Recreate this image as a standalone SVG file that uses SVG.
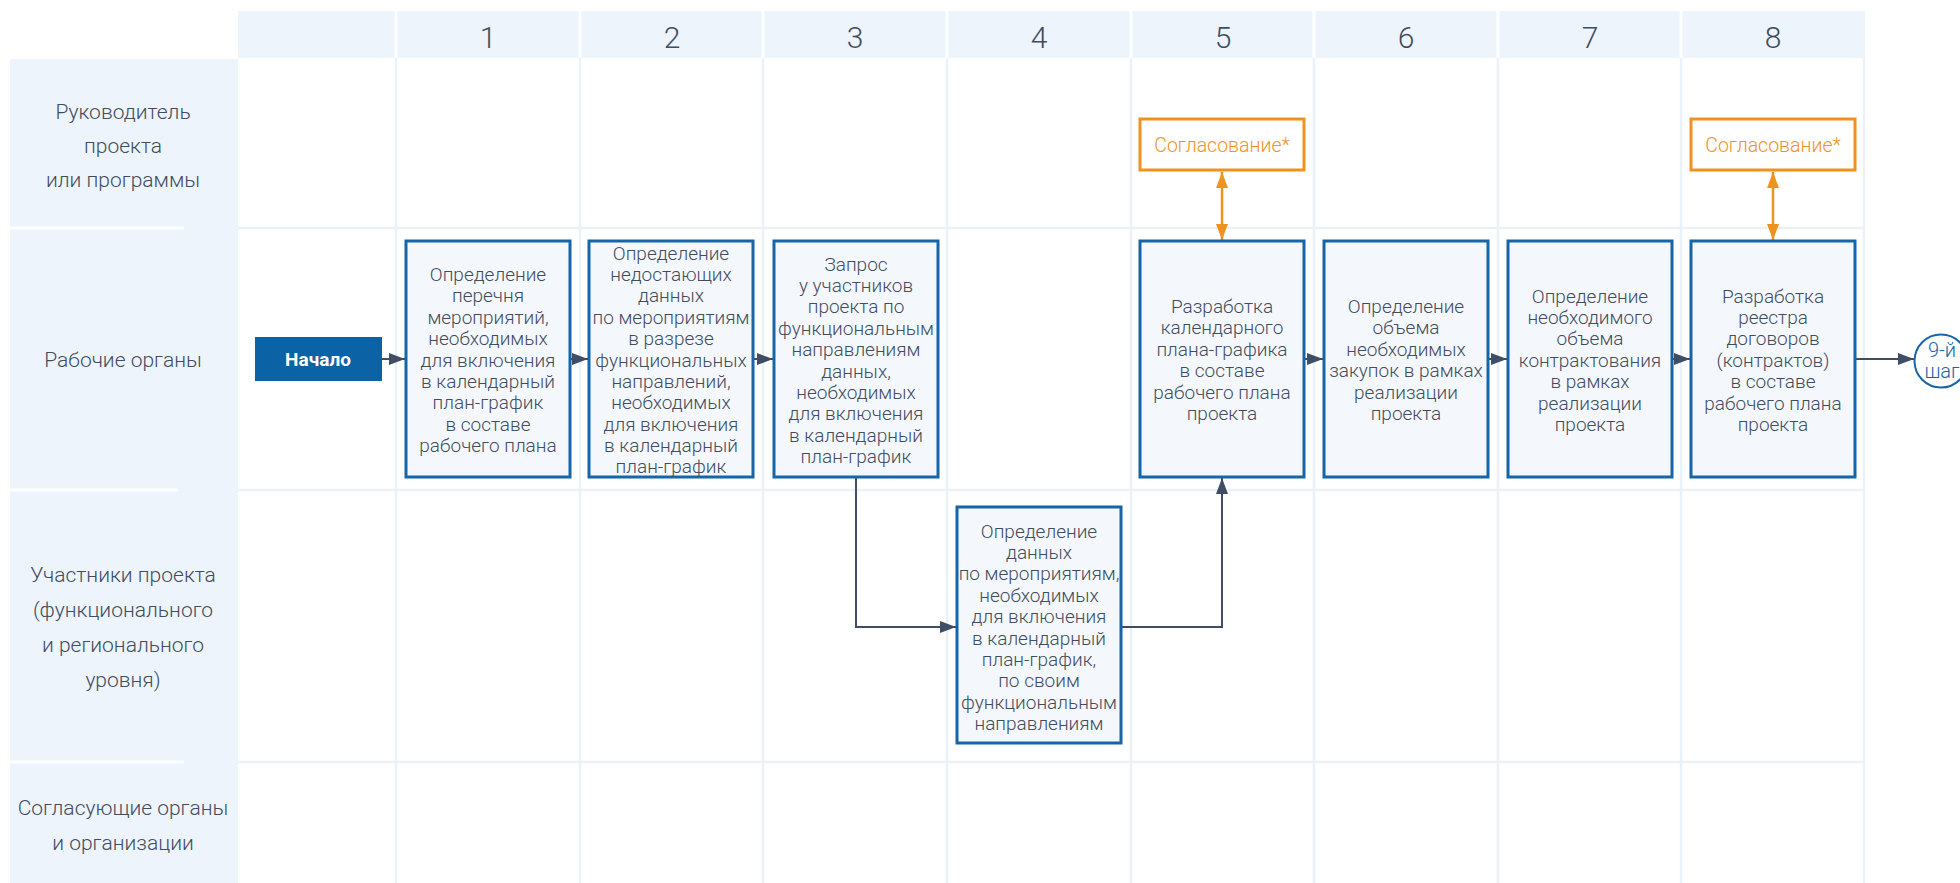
<svg xmlns="http://www.w3.org/2000/svg" width="1960" height="883" viewBox="0 0 1960 883">
<defs>
<style>
.lbl{font-family:Roboto,"Liberation Sans",Arial,sans-serif;font-weight:300;font-size:21px;fill:#414c5e;text-anchor:middle}
.num{font-family:Roboto,"Liberation Sans",Arial,sans-serif;font-weight:300;font-size:30px;fill:#414c5e;text-anchor:middle}
.bt{font-family:Roboto,"Liberation Sans",Arial,sans-serif;font-weight:300;font-size:19px;fill:#414c5e;text-anchor:middle}
.box{fill:#f4f8fc;stroke:#1565a8;stroke-width:3}
.appr{fill:#ffffff;stroke:#f0921f;stroke-width:3}
.at{font-family:Roboto,"Liberation Sans",Arial,sans-serif;font-weight:300;font-size:19.5px;fill:#f0921f;text-anchor:middle}
.ct{font-family:Roboto,"Liberation Sans",Arial,sans-serif;font-weight:300;font-size:20px;fill:#1565a8;text-anchor:middle}
.grid{stroke:#e9f1f9;stroke-width:2.5}
.gap{stroke:#ffffff;stroke-width:3}
.con{fill:none;stroke:#3f4d66;stroke-width:2}
.ocon{fill:none;stroke:#f0921f;stroke-width:2.5}
</style>
<marker id="ah" viewBox="0 0 16 12" refX="16" refY="6" markerWidth="16" markerHeight="12" markerUnits="userSpaceOnUse" orient="auto"><path d="M0,0 L16,6 L0,12 z" fill="#3f4d66"/></marker>
<marker id="oh" viewBox="0 0 16 12" refX="16" refY="6" markerWidth="16" markerHeight="12" markerUnits="userSpaceOnUse" orient="auto-start-reverse"><path d="M0,0 L16,6 L0,12 z" fill="#f0921f"/></marker>
</defs>
<rect width="1960" height="883" fill="#ffffff"/>
<g id="grid">
<rect x="238" y="11" width="1627" height="47" fill="#edf4fb"/>
<g class="gap">
<line x1="396" y1="11" x2="396" y2="58"/><line x1="580" y1="11" x2="580" y2="58"/><line x1="763" y1="11" x2="763" y2="58"/><line x1="947" y1="11" x2="947" y2="58"/><line x1="1131" y1="11" x2="1131" y2="58"/><line x1="1314" y1="11" x2="1314" y2="58"/><line x1="1498" y1="11" x2="1498" y2="58"/><line x1="1681" y1="11" x2="1681" y2="58"/>
</g>
<g class="grid">
<line x1="396" y1="58" x2="396" y2="883"/><line x1="580" y1="58" x2="580" y2="883"/><line x1="763" y1="58" x2="763" y2="883"/><line x1="947" y1="58" x2="947" y2="883"/><line x1="1131" y1="58" x2="1131" y2="883"/><line x1="1314" y1="58" x2="1314" y2="883"/><line x1="1498" y1="58" x2="1498" y2="883"/><line x1="1681" y1="58" x2="1681" y2="883"/><line x1="1864" y1="58" x2="1864" y2="883"/>
<line x1="238" y1="228" x2="1865" y2="228"/><line x1="238" y1="490" x2="1865" y2="490"/><line x1="238" y1="762" x2="1865" y2="762"/>
</g>
<rect x="10" y="59" width="228" height="824" fill="#edf4fb"/>
<g class="gap">
<line x1="10" y1="228" x2="184" y2="228"/><line x1="10" y1="490" x2="178" y2="490"/><line x1="10" y1="762" x2="184" y2="762"/>
</g>
<text class="num" x="488" y="48">1</text><text class="num" x="672" y="48">2</text><text class="num" x="855" y="48">3</text><text class="num" x="1039" y="48">4</text><text class="num" x="1223" y="48">5</text><text class="num" x="1406" y="48">6</text><text class="num" x="1590" y="48">7</text><text class="num" x="1773" y="48">8</text>
</g>
<g id="lanes">
<text class="lbl" x="123" y="119">Руководитель</text>
<text class="lbl" x="123" y="153">проекта</text>
<text class="lbl" x="123" y="187">или программы</text>
<text class="lbl" x="123" y="367">Рабочие органы</text>
<text class="lbl" x="123" y="582">Участники проекта</text>
<text class="lbl" x="123" y="617">(функционального</text>
<text class="lbl" x="123" y="652">и регионального</text>
<text class="lbl" x="123" y="687">уровня)</text>
<text class="lbl" x="123" y="815">Согласующие органы</text>
<text class="lbl" x="123" y="850">и организации</text>
</g>
<g id="connectors">
<line class="con" x1="382" y1="359" x2="405" y2="359" marker-end="url(#ah)"/>
<line class="con" x1="570" y1="359" x2="588" y2="359" marker-end="url(#ah)"/>
<line class="con" x1="753" y1="359" x2="773" y2="359" marker-end="url(#ah)"/>
<polyline class="con" points="856,477 856,627 956,627" marker-end="url(#ah)"/>
<polyline class="con" points="1121,627 1222,627 1222,478" marker-end="url(#ah)"/>
<line class="con" x1="1304" y1="359" x2="1323" y2="359" marker-end="url(#ah)"/>
<line class="con" x1="1488" y1="359" x2="1507" y2="359" marker-end="url(#ah)"/>
<line class="con" x1="1673" y1="359" x2="1690" y2="359" marker-end="url(#ah)"/>
<line class="con" x1="1856" y1="359" x2="1914" y2="359" marker-end="url(#ah)"/>
<line class="ocon" x1="1222" y1="172" x2="1222" y2="240" marker-start="url(#oh)" marker-end="url(#oh)"/>
<line class="ocon" x1="1773" y1="172" x2="1773" y2="240" marker-start="url(#oh)" marker-end="url(#oh)"/>
</g>
<g id="start">
<rect x="255" y="337" width="127" height="44" fill="#0b63a6"/>
<text x="318" y="366" font-family="Roboto,Liberation Sans,Arial,sans-serif" font-size="19" font-weight="bold" fill="#ffffff" text-anchor="middle">Начало</text>
</g>
<g id="box1">
<rect class="box" x="406" y="241" width="164" height="236"/>
<text class="bt" y="281"><tspan x="488">Определение</tspan><tspan x="488" dy="21.4">перечня</tspan><tspan x="488" dy="21.4">мероприятий,</tspan><tspan x="488" dy="21.4">необходимых</tspan><tspan x="488" dy="21.4">для включения</tspan><tspan x="488" dy="21.4">в календарный</tspan><tspan x="488" dy="21.4">план-график</tspan><tspan x="488" dy="21.4">в составе</tspan><tspan x="488" dy="21.4">рабочего плана</tspan></text>
</g>
<g id="box2">
<rect class="box" x="589" y="241" width="164" height="236"/>
<text class="bt" y="259.5"><tspan x="671">Определение</tspan><tspan x="671" dy="21.4">недостающих</tspan><tspan x="671" dy="21.4">данных</tspan><tspan x="671" dy="21.4">по мероприятиям</tspan><tspan x="671" dy="21.4">в разрезе</tspan><tspan x="671" dy="21.4">функциональных</tspan><tspan x="671" dy="21.4">направлений,</tspan><tspan x="671" dy="21.4">необходимых</tspan><tspan x="671" dy="21.4">для включения</tspan><tspan x="671" dy="21.4">в календарный</tspan><tspan x="671" dy="21.4">план-график</tspan></text>
</g>
<g id="box3">
<rect class="box" x="774" y="241" width="164" height="236"/>
<text class="bt" y="270.5"><tspan x="856">Запрос</tspan><tspan x="856" dy="21.4">у участников</tspan><tspan x="856" dy="21.4">проекта по</tspan><tspan x="856" dy="21.4">функциональным</tspan><tspan x="856" dy="21.4">направлениям</tspan><tspan x="856" dy="21.4">данных,</tspan><tspan x="856" dy="21.4">необходимых</tspan><tspan x="856" dy="21.4">для включения</tspan><tspan x="856" dy="21.4">в календарный</tspan><tspan x="856" dy="21.4">план-график</tspan></text>
</g>
<g id="box4">
<rect class="box" x="957" y="507" width="164" height="236"/>
<text class="bt" y="537.5"><tspan x="1039">Определение</tspan><tspan x="1039" dy="21.4">данных</tspan><tspan x="1039" dy="21.4">по мероприятиям,</tspan><tspan x="1039" dy="21.4">необходимых</tspan><tspan x="1039" dy="21.4">для включения</tspan><tspan x="1039" dy="21.4">в календарный</tspan><tspan x="1039" dy="21.4">план-график,</tspan><tspan x="1039" dy="21.4">по своим</tspan><tspan x="1039" dy="21.4">функциональным</tspan><tspan x="1039" dy="21.4">направлениям</tspan></text>
</g>
<g id="box5">
<rect class="box" x="1140" y="241" width="164" height="236"/>
<text class="bt" y="313"><tspan x="1222">Разработка</tspan><tspan x="1222" dy="21.4">календарного</tspan><tspan x="1222" dy="21.4">плана-графика</tspan><tspan x="1222" dy="21.4">в составе</tspan><tspan x="1222" dy="21.4">рабочего плана</tspan><tspan x="1222" dy="21.4">проекта</tspan></text>
</g>
<g id="box6">
<rect class="box" x="1324" y="241" width="164" height="236"/>
<text class="bt" y="313"><tspan x="1406">Определение</tspan><tspan x="1406" dy="21.4">объема</tspan><tspan x="1406" dy="21.4">необходимых</tspan><tspan x="1406" dy="21.4">закупок в рамках</tspan><tspan x="1406" dy="21.4">реализации</tspan><tspan x="1406" dy="21.4">проекта</tspan></text>
</g>
<g id="box7">
<rect class="box" x="1508" y="241" width="164" height="236"/>
<text class="bt" y="302.5"><tspan x="1590">Определение</tspan><tspan x="1590" dy="21.4">необходимого</tspan><tspan x="1590" dy="21.4">объема</tspan><tspan x="1590" dy="21.4">контрактования</tspan><tspan x="1590" dy="21.4">в рамках</tspan><tspan x="1590" dy="21.4">реализации</tspan><tspan x="1590" dy="21.4">проекта</tspan></text>
</g>
<g id="box8">
<rect class="box" x="1691" y="241" width="164" height="236"/>
<text class="bt" y="302.5"><tspan x="1773">Разработка</tspan><tspan x="1773" dy="21.4">реестра</tspan><tspan x="1773" dy="21.4">договоров</tspan><tspan x="1773" dy="21.4">(контрактов)</tspan><tspan x="1773" dy="21.4">в составе</tspan><tspan x="1773" dy="21.4">рабочего плана</tspan><tspan x="1773" dy="21.4">проекта</tspan></text>
</g>
<g id="approval5">
<rect class="appr" x="1140" y="119" width="164" height="51"/>
<text class="at" x="1222" y="152">Согласование*</text>
</g>
<g id="approval8">
<rect class="appr" x="1691" y="119" width="164" height="51"/>
<text class="at" x="1773" y="152">Согласование*</text>
</g>
<g id="step9">
<circle cx="1941" cy="361" r="26.5" fill="#ffffff" stroke="#1565a8" stroke-width="2"/>
<text class="ct" x="1942" y="357">9-й</text>
<text class="ct" x="1942" y="378">шаг</text>
</g>
</svg>
